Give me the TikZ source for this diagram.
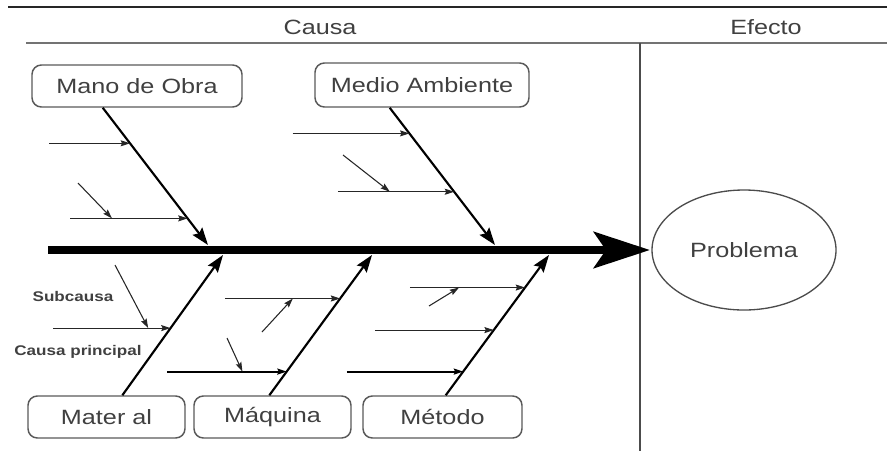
\documentclass[tikz,border=0pt]{standalone}
\usepackage{fontspec}
\setmainfont{Liberation Sans}[FakeStretch=1.22]
\usepackage{tikz}
\usetikzlibrary{arrows.meta,calc,shapes.geometric}

\begin{document}
\begin{tikzpicture}[x=0.75pt,y=0.75pt,yscale=-1,xscale=1,
  causebox/.style={draw=black!65,line width=1.1pt,rounded corners=7pt,inner sep=0pt,minimum height=31.5pt,text=black!75,font=\fontsize{15.5}{18}\selectfont},
  headtext/.style={inner sep=0.75pt,text=black!75,font=\fontsize{15.5}{18}\selectfont},
  smalltext/.style={inner sep=0.75pt,text=black!75,font=\fontsize{10.5}{12}\selectfont\bfseries},
  spine/.style={line width=6.5pt,-{Stealth[length=42pt,width=27pt,inset=9pt]}},
  bone/.style={line width=1.6pt,-{Stealth[length=13pt,width=9pt,inset=2pt]}},
  subarrow/.style={line width=0.8pt,black!85,-{Stealth[length=7pt,width=4.5pt,inset=1pt]}},
  thicksub/.style={subarrow,line width=1.4pt,black}]
\useasboundingbox (0,0) rectangle (887,451);
%Straight Lines: header
\draw [line width=1.1pt,black!85] (8,7) -- (887,7) ;
\draw [line width=1.1pt,black!55] (26,43) -- (887,43) ;
\draw [line width=1.1pt,black!70] (640,43) -- (640,451) ;
% Text Node
\node [headtext] (causa) at (320,27) {Causa};
% Text Node
\node [headtext] (efecto) at (766,27) {Efecto};
%Shape: Ellipse
\node [draw=black!70,line width=1pt,ellipse,minimum width=138pt,minimum height=90pt,inner sep=0pt,text=black!75,font=\fontsize{15.5}{18}\selectfont] (prob) at (744,250) {Problema};
%Shape: Rounded Rect
\node [causebox,minimum width=157.5pt] (mo) at (137,86) {Mano de Obra};
\node [causebox,minimum width=160.5pt,minimum height=33pt] (ma) at (422,85) {Medio Ambiente};
\node [causebox,minimum width=117.75pt] (mt) at (106.5,417) {Mater al};
\node [causebox,minimum width=117.75pt] (mq) at (272.5,417) {Máquina};
\node [causebox,minimum width=119.25pt] (me) at (442.5,417) {Método};
% Text Node
\node [smalltext] (subc) at (73,296) {Subcausa};
\node [smalltext] (cprin) at (78,352) {Causa principal};

%Straight Lines: spine
\coordinate (sp) at (48,250) ;
\draw [spine] (sp) -- ([xshift=-1pt]prob.west) ;

%Straight Lines: main bones
\coordinate (moS) at ($(mo.south west)!.338!(mo.south east)$) ;
\coordinate (moE) at (208,245) ;
\coordinate (maS) at ($(ma.south west)!.35!(ma.south east)$) ;
\coordinate (maE) at (495,245) ;
\coordinate (mtS) at ($(mt.north west)!.6!(mt.north east)$) ;
\coordinate (mtE) at (223,255) ;
\coordinate (mqS) at ($(mq.north west)!.48!(mq.north east)$) ;
\coordinate (mqE) at (372,255) ;
\coordinate (meS) at ($(me.north west)!.52!(me.north east)$) ;
\coordinate (meE) at (549,255) ;
\foreach \b in {mo,ma,mt,mq,me}
  \draw [bone] (\b S) -- (\b E) ;

%Straight Lines: sub causes
\coordinate (mo1) at ($(moS)!.259!(moE)$) ;
\coordinate (mo2) at ($(moS)!.806!(moE)$) ;
\coordinate (moD) at (78,183) ;
\draw [subarrow] ([xshift=-60.75pt]mo1) -- (mo1) ;
\draw [subarrow] ([xshift=-88pt]mo2) -- (mo2) ;
\draw [subarrow] (moD) -- ([xshift=-56.7pt]mo2) ;

\coordinate (ma1) at ($(maS)!.187!(maE)$) ;
\coordinate (ma2) at ($(maS)!.612!(maE)$) ;
\coordinate (maD) at (343,155) ;
\draw [subarrow] ([xshift=-87.5pt]ma1) -- (ma1) ;
\draw [subarrow] ([xshift=-87.2pt]ma2) -- (ma2) ;
\draw [subarrow] (maD) -- ([xshift=-48.2pt]ma2) ;

\coordinate (mt1) at ($(mtS)!.479!(mtE)$) ;
\coordinate (mtD) at (115,265) ;
\draw [subarrow] ([xshift=-88pt]mt1) -- (mt1) ;
\draw [subarrow] (mtD) -- ([xshift=-16.8pt]mt1) ;

\coordinate (mq1) at ($(mqS)!.69!(mqE)$) ;
\coordinate (mq2) at ($(mqS)!.169!(mqE)$) ;
\coordinate (mqD) at (262,332) ;
\coordinate (mqF) at (227,338) ;
\draw [subarrow] ([xshift=-86.5pt]mq1) -- (mq1) ;
\draw [subarrow] (mqD) -- ([xshift=-35.5pt]mq1) ;
\draw [thicksub] ([xshift=-89.4pt]mq2) -- (mq2) ;
\draw [subarrow] (mqF) -- ([xshift=-33.2pt]mq2) ;

\coordinate (me1) at ($(meS)!.768!(meE)$) ;
\coordinate (me2) at ($(meS)!.465!(meE)$) ;
\coordinate (me3) at ($(meS)!.169!(meE)$) ;
\coordinate (meD) at (429,306) ;
\draw [subarrow] ([xshift=-86.3pt]me1) -- (me1) ;
\draw [subarrow] (meD) -- ([xshift=-49.5pt]me1) ;
\draw [subarrow] ([xshift=-89.2pt]me2) -- (me2) ;
\draw [thicksub] ([xshift=-87.3pt]me3) -- (me3) ;
\end{tikzpicture}
\end{document}
